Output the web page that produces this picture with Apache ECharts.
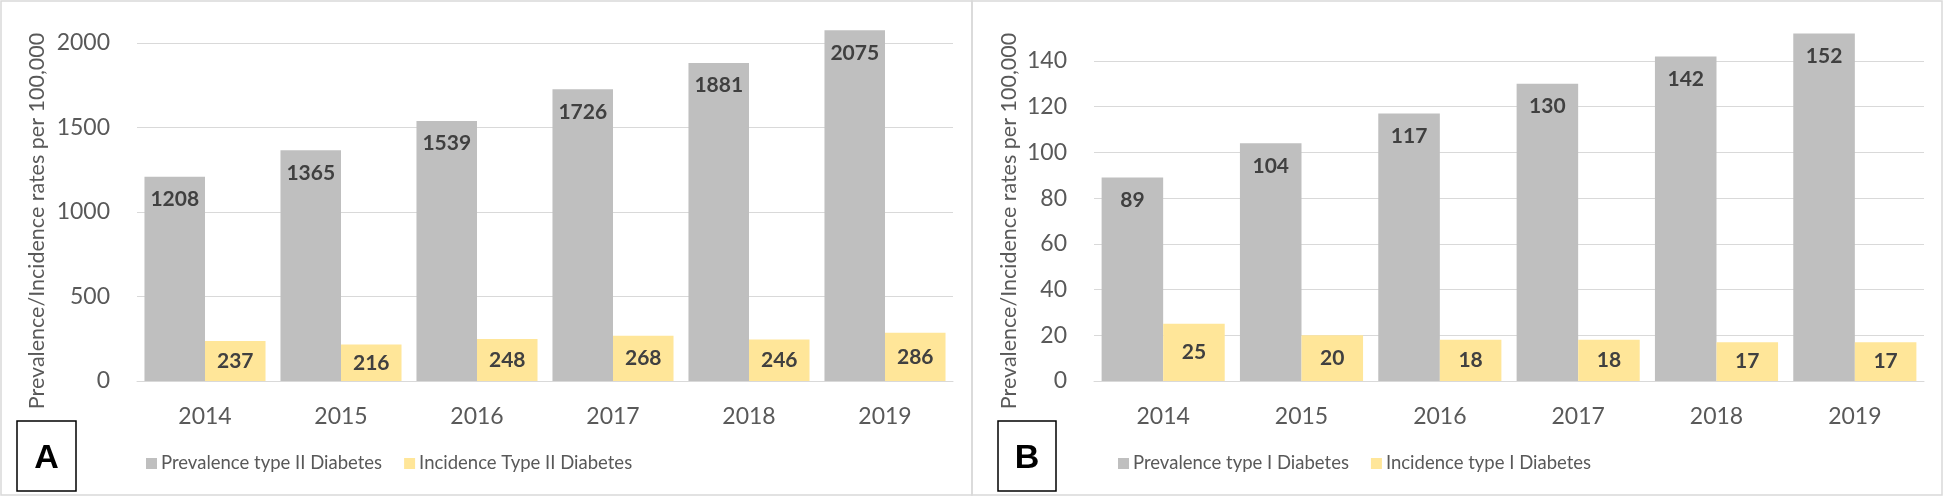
<!DOCTYPE html>
<html>
<head>
<meta charset="utf-8">
<script src="https://cdn.jsdelivr.net/npm/echarts@6/dist/echarts.min.js"></script>
<style>
html,body{margin:0;padding:0;background:#fff;}
#c{width:1944px;height:499px;}
</style>
</head>
<body>
<div id="c"></div>
<script>
// ---- data ----
const years = ['2014', '2015', '2016', '2017', '2018', '2019'];
const prevalenceT2 = [1208, 1365, 1539, 1726, 1881, 2075];
const incidenceT2 = [237, 216, 248, 268, 246, 286];
const prevalenceT1 = [89, 104, 117, 130, 142, 152];
const incidenceT1 = [25, 20, 18, 18, 17, 17];
const nameA1 = 'Prevalence type II Diabetes';
const nameA2 = 'Incidence Type II Diabetes';
const nameB1 = 'Prevalence type I Diabetes';
const nameB2 = 'Incidence type I Diabetes';
const yTitle = 'Prevalence/Incidence rates per 100,000';

const FONT = 'Lato';
const GRAY = '#bfbfbf';
const YELLOW = '#ffe699';
const TXT = '#595959';
const GRID_C = '#d9d9d9';

const chart = echarts.init(document.getElementById('c'), null, {renderer: 'canvas'});

function xAxis(gi) {
  return {
    type: 'category', gridIndex: gi, data: years,
    axisLine: {show: true, lineStyle: {color: GRID_C, width: 1}},
    axisTick: {show: false},
    axisLabel: {color: TXT, fontFamily: FONT, fontSize: 23, margin: 24}
  };
}
function yAxis(gi, max, interval) {
  return {
    type: 'value', gridIndex: gi, min: 0, max: max, interval: interval,
    axisLine: {show: false}, axisTick: {show: false},
    splitLine: {show: true, lineStyle: {color: GRID_C, width: 1}},
    axisLabel: {color: TXT, fontFamily: FONT, fontSize: 23, margin: 27,
      formatter: v => String(v)}
  };
}
function barSeries(name, data, gi, color, pos, dist) {
  return {
    type: 'bar', name: name, data: data, xAxisIndex: gi, yAxisIndex: gi,
    barGap: '0%', barCategoryGap: '11%', clip: false,
    itemStyle: {color: color},
    label: {show: true, position: pos, distance: dist, color: '#404040',
      fontFamily: FONT, fontWeight: 'bold', fontSize: 21},
    emphasis: {disabled: true}
  };
}
function legend(names, left) {
  return {
    data: names, left: left, top: 449, orient: 'horizontal',
    itemWidth: 11, itemHeight: 11, itemGap: 22,
    icon: 'rect',
    textStyle: {color: TXT, fontFamily: FONT, fontSize: 18.5, padding: [0, 0, 0, -1]},
    selectedMode: false
  };
}
function box(x1, y1, x2, y2, stroke, lw) {
  return {type: 'rect', shape: {x: x1, y: y1, width: x2 - x1, height: y2 - y1},
    style: {fill: 'none', stroke: stroke, lineWidth: lw}, silent: true, z: 100};
}
function rotText(x, y, t) {
  return {type: 'text', x: x, y: y, rotation: Math.PI / 2, silent: true, z: 100,
    style: {text: t, fill: TXT, font: '21.5px ' + FONT, textAlign: 'center', textVerticalAlign: 'middle'}};
}
function letter(x, y, t) {
  return {type: 'text', x: x, y: y, silent: true, z: 100,
    style: {text: t, fill: '#000', font: 'bold 34px "Liberation Sans"', textAlign: 'center', textVerticalAlign: 'middle'}};
}

chart.setOption({
  animation: false,
  backgroundColor: '#fff',
  grid: [
    {left: 137, top: 43, width: 816, height: 338},
    {left: 1094, top: 61, width: 830, height: 320}
  ],
  xAxis: [xAxis(0), xAxis(1)],
  yAxis: [yAxis(0, 2000, 500), yAxis(1, 140, 20)],
  legend: [legend([nameA1, nameA2], 141), legend([nameB1, nameB2], 1113)],
  series: [
    barSeries(nameA1, prevalenceT2, 0, GRAY, 'insideTop', 12),
    barSeries(nameA2, incidenceT2, 0, YELLOW, 'inside', 0),
    barSeries(nameB1, prevalenceT1, 1, GRAY, 'insideTop', 12),
    barSeries(nameB2, incidenceT1, 1, YELLOW, 'inside', 0)
  ],
  graphic: [
    box(1, 1, 972, 495, GRID_C, 1.5),
    box(972, 1, 1942, 495, GRID_C, 1.5),
    rotText(37, 221, yTitle),
    rotText(1009, 221, yTitle),
    box(17, 421, 76, 491, '#000', 1.5),
    box(998, 421, 1056, 491, '#000', 1.5),
    letter(46.5, 459, 'A'),
    letter(1027, 459, 'B')
  ]
});
</script>
</body>
</html>
